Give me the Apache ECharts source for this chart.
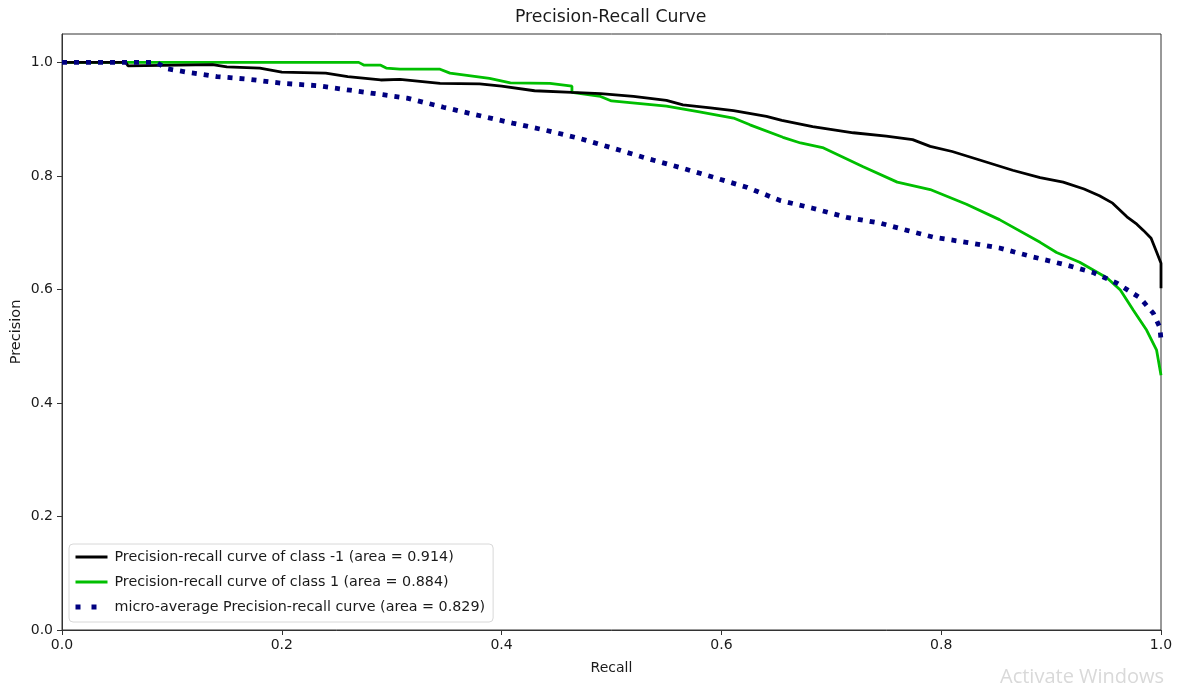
<!DOCTYPE html>
<html>
<head>
<meta charset="utf-8">
<title>Precision-Recall Curve</title>
<script src="https://cdn.jsdelivr.net/npm/echarts@6/dist/echarts.min.js"></script>
<style>
  html, body { margin: 0; padding: 0; background: #fff; }
  #chart { width: 1179px; height: 684px; }
</style>
</head>
<body>
<div id="chart"></div>
<script>
// Class -1 precision-recall curve
const recallNeg = [0, 0.058, 0.06, 0.137, 0.15, 0.18, 0.2, 0.24, 0.26, 0.29, 0.3075, 0.344, 0.38, 0.4, 0.43, 0.464, 0.49, 0.52, 0.55, 0.565, 0.59, 0.611, 0.641, 0.655, 0.683, 0.72, 0.75, 0.774, 0.79, 0.81, 0.835, 0.865, 0.89, 0.911, 0.93, 0.944, 0.956, 0.969, 0.978, 0.984, 0.991, 0.996, 1.0, 1.0];
const precisionNeg = [1.0, 1.0, 0.994, 0.996, 0.992, 0.99, 0.983, 0.981, 0.975, 0.969, 0.970, 0.963, 0.962, 0.958, 0.950, 0.947, 0.945, 0.940, 0.933, 0.925, 0.920, 0.915, 0.905, 0.898, 0.887, 0.876, 0.870, 0.864, 0.852, 0.843, 0.828, 0.810, 0.797, 0.789, 0.777, 0.765, 0.752, 0.728, 0.715, 0.704, 0.690, 0.666, 0.646, 0.602];

// Class 1 precision-recall curve
const recallPos = [0, 0.27, 0.275, 0.29, 0.295, 0.3075, 0.344, 0.353, 0.389, 0.408, 0.444, 0.464, 0.464, 0.49, 0.5, 0.55, 0.58, 0.611, 0.626, 0.656, 0.672, 0.692, 0.729, 0.76, 0.79, 0.823, 0.853, 0.89, 0.905, 0.926, 0.951, 0.963, 0.975, 0.987, 0.996, 0.999, 1.0];
const precisionPos = [1.0, 1.0, 0.995, 0.995, 0.99, 0.988, 0.988, 0.981, 0.972, 0.964, 0.963, 0.958, 0.947, 0.940, 0.932, 0.923, 0.913, 0.902, 0.890, 0.868, 0.858, 0.850, 0.816, 0.789, 0.776, 0.750, 0.723, 0.683, 0.665, 0.648, 0.620, 0.599, 0.563, 0.528, 0.493, 0.460, 0.449];

// Micro-average precision-recall curve
const recallMicro = [0, 0.086, 0.095, 0.116, 0.141, 0.171, 0.201, 0.232, 0.262, 0.292, 0.314, 0.347, 0.378, 0.41, 0.441, 0.471, 0.501, 0.532, 0.562, 0.592, 0.623, 0.653, 0.683, 0.714, 0.744, 0.769, 0.793, 0.823, 0.853, 0.884, 0.914, 0.938, 0.96, 0.981, 0.993, 0.999, 1.0];
const precisionMicro = [1.0, 1.0, 0.989, 0.982, 0.975, 0.970, 0.963, 0.959, 0.951, 0.943, 0.937, 0.921, 0.907, 0.893, 0.880, 0.866, 0.849, 0.831, 0.815, 0.798, 0.780, 0.757, 0.743, 0.727, 0.717, 0.704, 0.692, 0.683, 0.673, 0.657, 0.643, 0.630, 0.611, 0.585, 0.558, 0.533, 0.511];

const seriesNames = [
  'Precision-recall curve of class -1 (area = 0.914)',
  'Precision-recall curve of class 1 (area = 0.884)',
  'micro-average Precision-recall curve (area = 0.829)'
];
const tickValues = [0, 0.2, 0.4, 0.6, 0.8, 1.0];

const zip = (xs, ys) => xs.map((x, i) => [x, ys[i]]);
const font = 'DejaVu Sans';
const textColor = '#1a1a1a';
const colors = ['#000000', '#00bf00', '#000080'];

const chart = echarts.init(document.getElementById('chart'), null, { renderer: 'canvas' });

chart.setOption({
  backgroundColor: '#fff',
  animation: false,
  title: {
    text: 'Precision-Recall Curve',
    left: 515,
    top: 9,
    padding: 0,
    textStyle: { fontFamily: font, fontSize: 17.3, fontWeight: 'normal', color: textColor }
  },
  grid: {
    left: 62, right: 18, top: 34, bottom: 54,
    outerBoundsMode: 'none', containLabel: false,
    show: true, borderColor: '#333', borderWidth: 1, backgroundColor: '#fff'
  },
  legend: {
    orient: 'vertical',
    left: 69, top: 544,
    padding: [6, 8, 8, 4],
    itemWidth: 32, itemHeight: 16, itemGap: 11,
    backgroundColor: '#fff',
    borderColor: '#d8d8d8', borderWidth: 1, borderRadius: 4,
    itemStyle: { color: 'transparent', borderColor: 'transparent', borderWidth: 0 },
    textStyle: { fontFamily: font, fontSize: 14.3, color: textColor, padding: [0, 0, 0, 2] },
    data: [
      { name: seriesNames[0], lineStyle: { color: colors[0], width: 3 } },
      { name: seriesNames[1], lineStyle: { color: colors[1], width: 3 } },
      { name: seriesNames[2], lineStyle: { color: colors[2], width: 5, type: [5, 11], cap: 'butt' } }
    ]
  },
  xAxis: {
    type: 'value', min: 0, max: 1,
    name: 'Recall', nameLocation: 'middle', nameGap: 31, nameMoveOverlap: false,
    nameTextStyle: { fontFamily: font, fontSize: 14, color: textColor },
    axisLine: { show: true, lineStyle: { color: '#333', width: 1 } },
    axisTick: { show: true, length: 5, customValues: tickValues, lineStyle: { color: '#333' } },
    axisLabel: {
      customValues: tickValues, margin: 8,
      fontFamily: font, fontSize: 14, color: textColor,
      formatter: v => v.toFixed(1)
    },
    splitLine: { show: false }
  },
  yAxis: {
    type: 'value', min: 0, max: 1.05,
    name: 'Precision', nameLocation: 'middle', nameGap: 38, nameRotate: 90, nameMoveOverlap: false,
    nameTextStyle: { fontFamily: font, fontSize: 14.5, color: textColor },
    axisLine: { show: true, lineStyle: { color: '#333', width: 1 } },
    axisTick: { show: true, length: 5, customValues: tickValues, lineStyle: { color: '#333' } },
    axisLabel: {
      customValues: tickValues, margin: 9,
      fontFamily: font, fontSize: 14, color: textColor,
      formatter: v => v.toFixed(1)
    },
    splitLine: { show: false }
  },
  series: [
    {
      name: seriesNames[0], type: 'line', symbol: 'none', z: 3,
      data: zip(recallNeg, precisionNeg),
      lineStyle: { color: colors[0], width: 2.8 },
      itemStyle: { color: colors[0] }
    },
    {
      name: seriesNames[1], type: 'line', symbol: 'none', z: 2,
      data: zip(recallPos, precisionPos),
      lineStyle: { color: colors[1], width: 2.8 },
      itemStyle: { color: colors[1] }
    },
    {
      name: seriesNames[2], type: 'line', symbol: 'none', z: 4,
      data: zip(recallMicro, precisionMicro),
      lineStyle: { color: colors[2], width: 4.8, type: [5, 7], cap: 'butt' },
      itemStyle: { color: colors[2] }
    }
  ],
  graphic: [
    {
      type: 'text', left: 1000, top: 667, silent: true,
      style: { text: 'Activate Windows', fontFamily: 'Open Sans', fontSize: 20, fill: '#d9d9d9' }
    }
  ]
});
</script>
</body>
</html>
